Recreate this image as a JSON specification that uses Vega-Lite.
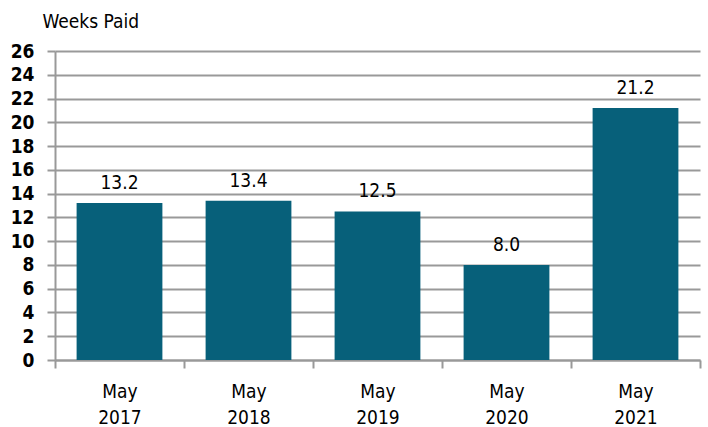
{
  "$schema": "https://vega.github.io/schema/vega-lite/v6.json",
  "width": 645,
  "height": 309,
  "autosize": {"type": "none"},
  "padding": {"left": 55, "top": 51, "right": 8, "bottom": 67},
  "background": "white",
  "config": {
    "view": {"stroke": null},
    "font": "DejaVu Sans Condensed"
  },
  "data": {
    "values": [
      {"period": "May 2017", "weeks": 13.2},
      {"period": "May 2018", "weeks": 13.4},
      {"period": "May 2019", "weeks": 12.5},
      {"period": "May 2020", "weeks": 8.0},
      {"period": "May 2021", "weeks": 21.2}
    ]
  },
  "encoding": {
    "x": {
      "field": "period",
      "type": "nominal",
      "sort": null,
      "scale": {"paddingInner": 0, "paddingOuter": 0},
      "axis": {
        "title": null,
        "labelAngle": 0,
        "labelExpr": "isValid(datum.value) ? split(datum.value, ' ') : ''",
        "labelLineHeight": 26,
        "labelFontSize": 19,
        "labelColor": "#000000",
        "labelPadding": 14,
        "labelBaseline": "top",
        "tickBand": "extent",
        "tickSize": 8,
        "tickWidth": 2,
        "tickColor": "#999999",
        "domainColor": "#999999",
        "domainWidth": 2,
        "grid": false
      }
    },
    "y": {
      "field": "weeks",
      "type": "quantitative",
      "scale": {"domain": [0, 26], "nice": false},
      "axis": {
        "values": [0, 2, 4, 6, 8, 10, 12, 14, 16, 18, 20, 22, 24, 26],
        "title": "Weeks Paid",
        "titleAngle": 0,
        "titleAlign": "left",
        "titleBaseline": "alphabetic",
        "titleX": -13,
        "titleY": -24,
        "titleFontSize": 19,
        "titleFontWeight": "normal",
        "titleColor": "#000000",
        "labelFontSize": 19,
        "labelFontWeight": "bold",
        "labelColor": "#000000",
        "labelPadding": 13,
        "tickSize": 8,
        "tickWidth": 2,
        "tickColor": "#999999",
        "domainColor": "#999999",
        "domainWidth": 2,
        "grid": true,
        "gridColor": "#999999",
        "gridWidth": 2
      }
    }
  },
  "layer": [
    {
      "mark": {"type": "bar", "color": "#07607A", "width": {"band": 0.665}}
    },
    {
      "mark": {"type": "text", "dy": -14, "baseline": "alphabetic", "fontSize": 19, "color": "#000000"},
      "encoding": {"text": {"field": "weeks", "type": "quantitative", "format": ".1f"}}
    }
  ]
}
